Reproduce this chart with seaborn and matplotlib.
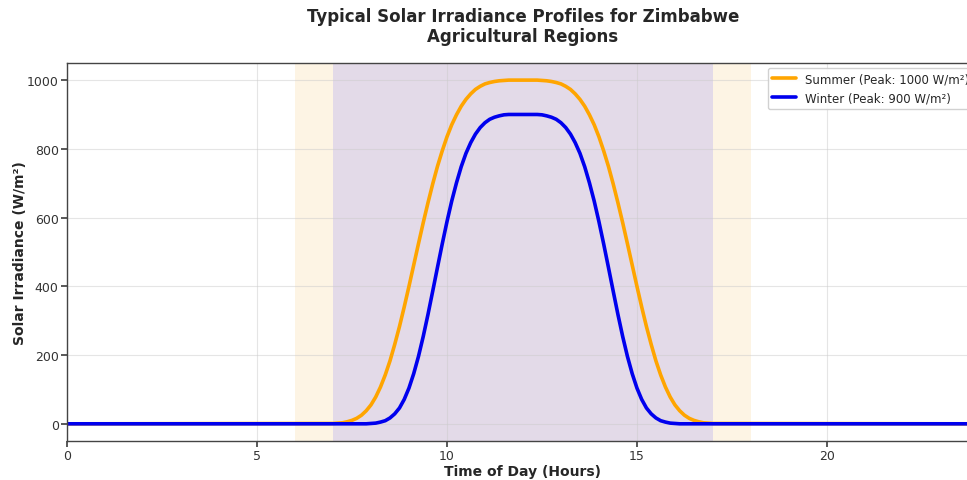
import numpy as np
import pandas as pd
import seaborn as sns
import matplotlib.pyplot as plt

hours = [0.0] + list(np.linspace(7.0, 17.0, 81)) + [24.0]

summer_vals = [0,
               1, 2, 3, 6, 10, 16, 25, 38, 55, 78, 107, 142, 183, 231, 283, 340, 400, 462, 524, 585,
               643, 698, 749, 794, 835, 870, 899, 924, 944, 960, 973, 982, 989, 993, 996, 998, 999,
               1000, 1000, 1000, 1000,
               1000, 1000, 1000, 999, 998, 996, 993, 989, 982, 973, 960, 944, 924, 899, 870, 835, 794,
               749, 698, 643, 585, 524, 462, 400, 340, 283, 231, 183, 142, 107, 78, 55, 38, 25, 16, 10,
               6, 3, 2, 1,
               0]
winter_vals = [0,
               0, 0, 0, 0, 0, 0, 0, 0, 1, 2, 5, 9, 17, 29, 46, 71, 104, 146, 196, 254,
               318, 386, 455, 523, 588, 648, 701, 748, 787, 818, 843, 862, 876, 886, 892, 896, 899,
               900, 900, 900, 900,
               900, 900, 900, 899, 896, 892, 886, 876, 862, 843, 818, 787, 748, 701, 648, 588, 523,
               455, 386, 318, 254, 196, 146, 104, 71, 46, 29, 17, 9, 5, 2, 1, 0, 0, 0, 0, 0, 0, 0, 0,
               0]

summer_label = "Summer (Peak: 1000 W/m²)"
winter_label = "Winter (Peak: 900 W/m²)"

daylight = (6, 18)
peak_sun = (7, 17)

x_ticks = [0, 5, 10, 15, 20]
y_ticks = [0, 200, 400, 600, 800, 1000]

sns.set_theme(style="ticks")
plt.rcParams['font.family'] = ['DejaVu Sans']

df = pd.DataFrame({"hour": hours, "summer": summer_vals, "winter": winter_vals})

fig = plt.figure(figsize=(9.67, 4.81), dpi=100)
ax = fig.add_axes([0.0693, 0.0811, 0.943, 0.786])

ax.axvspan(daylight[0], daylight[1], color="#fdf4e4", zorder=0, lw=0)
ax.axvspan(peak_sun[0], peak_sun[1], color="#e3dae8", zorder=0.1, lw=0)

sns.lineplot(data=df, x="hour", y="summer", ax=ax, color="orange", lw=2.6, label=summer_label)
sns.lineplot(data=df, x="hour", y="winter", ax=ax, color="#0000ee", lw=2.6, label=winter_label)

ax.set_xlim(0, 24)
ax.set_ylim(-50, 1050)
ax.set_xticks(x_ticks)
ax.set_yticks(y_ticks)
ax.set_axisbelow(True)
ax.grid(True, color="#cccccc", alpha=0.5, lw=0.8)
for s in ax.spines.values():
    s.set_color("#444444")
    s.set_linewidth(1.0)
ax.tick_params(labelsize=9, length=4, pad=2, color="#444444", labelcolor="#333333")

ax.set_xlabel("Time of Day (Hours)", fontsize=10, fontweight="bold", labelpad=1)
ax.set_ylabel("Solar Irradiance (W/m²)", fontsize=10, fontweight="bold", labelpad=0)
ax.set_title("Typical Solar Irradiance Profiles for Zimbabwe\nAgricultural Regions",
             fontsize=12, fontweight="bold", pad=16, linespacing=1.1)

# legend runs off the right edge, same as the source image
ax.legend(loc="upper right", fontsize=8.5, framealpha=0.9, borderaxespad=0.4)

fig.savefig("out.png", dpi=100)
